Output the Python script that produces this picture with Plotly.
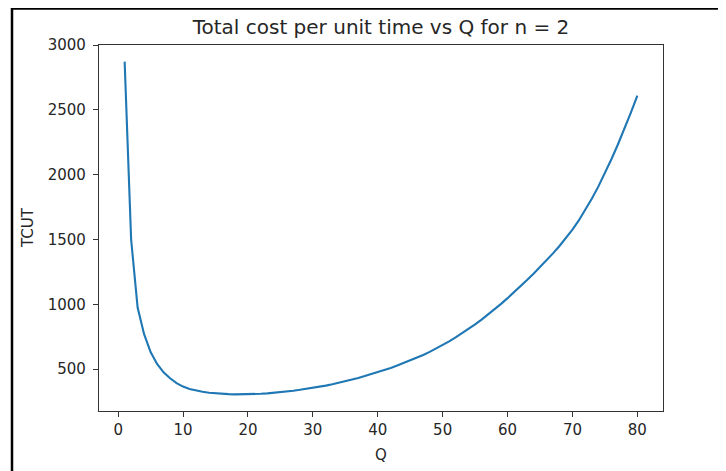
import plotly.graph_objects as go

# Order quantity Q
q_values = list(range(1, 81))

# Total cost per unit time
tcut_values = [
    2872, 1500, 975, 770, 632, 540, 476, 430, 392, 366,
    348, 335, 326, 319, 314, 310, 307.5, 306, 306, 306.5,
    308, 310.5, 314, 318, 323, 328.5, 334.5, 341, 348, 356,
    364.5, 373.5, 384, 395, 407, 420, 433, 447, 462, 477,
    493, 510, 528, 547, 567, 588, 610, 634, 659, 686,
    715, 745, 777, 811, 846, 883, 922, 962, 1004, 1048,
    1093, 1140, 1188, 1237, 1287, 1339, 1393, 1450, 1511, 1577,
    1649, 1729, 1816, 1910, 2011, 2119, 2233, 2353, 2479, 2610,
]

x_ticks = [0, 10, 20, 30, 40, 50, 60, 70, 80]
y_ticks = [500, 1000, 1500, 2000, 2500, 3000]

title_text = "Total cost per unit time vs Q for n = 2"
x_label = "Q"
y_label = "TCUT"

FONT = "DejaVu Sans"
OFF = 8  # page body margin of the browser
W, H = 726 - OFF, 471 - OFF
L, R, T, B = 99 - OFF, 63, 45 - OFF, 60
PW, PH = W - L - R, H - T - B


def px_x(p):
    # p: screen pixel in the reference picture
    return (p - OFF - L) / PW


def px_y(p):
    return (H - B - (p - OFF)) / PH


fig = go.Figure()
fig.add_trace(go.Scatter(
    x=q_values, y=tcut_values, mode="lines",
    line=dict(color="#1f77b4", width=2.1),
    showlegend=False, hoverinfo="skip",
))

axis_common = dict(
    automargin=False,
    showgrid=False, zeroline=False, showline=True, mirror=True,
    linecolor="#333333", linewidth=1.2,
    ticks="outside", ticklen=5, tickwidth=1, tickcolor="#333333",
    tickfont=dict(family=FONT, size=15, color="#262626"),
)

fig.update_layout(
    template="none",
    width=W, height=H,
    margin=dict(l=L, r=R, t=T, b=B, pad=0, autoexpand=False),
    paper_bgcolor="white", plot_bgcolor="white",
    xaxis=dict(range=[-2.95, 83.95], tickvals=x_ticks, **axis_common),
    yaxis=dict(range=[177.7, 3000.3], tickvals=y_ticks, ticklabelstandoff=4, **axis_common),
    title=dict(
        text=title_text, x=0.5, xref="paper", xanchor="center",
        y=1 - (27 - OFF) / H, yref="container", yanchor="middle",
        font=dict(family=FONT, size=20, color="#262626"),
    ),
    annotations=[
        dict(text=x_label, xref="paper", yref="paper", x=0.5, y=px_y(455),
             xanchor="center", yanchor="middle", showarrow=False,
             font=dict(family=FONT, size=15, color="#262626")),
        dict(text=y_label, xref="paper", yref="paper", x=px_x(28), y=px_y(228),
             xanchor="center", yanchor="middle", showarrow=False, textangle=-90,
             font=dict(family=FONT, size=15, color="#262626")),
    ],
    shapes=[
        dict(type="line", xref="paper", yref="paper",
             x0=px_x(12), x1=px_x(12), y0=px_y(475), y1=px_y(8),
             line=dict(color="black", width=2.5)),
        dict(type="line", xref="paper", yref="paper",
             x0=px_x(12), x1=px_x(730), y0=px_y(8.6), y1=px_y(8.6),
             line=dict(color="black", width=2.5)),
    ],
)

fig.write_html("out.html")
